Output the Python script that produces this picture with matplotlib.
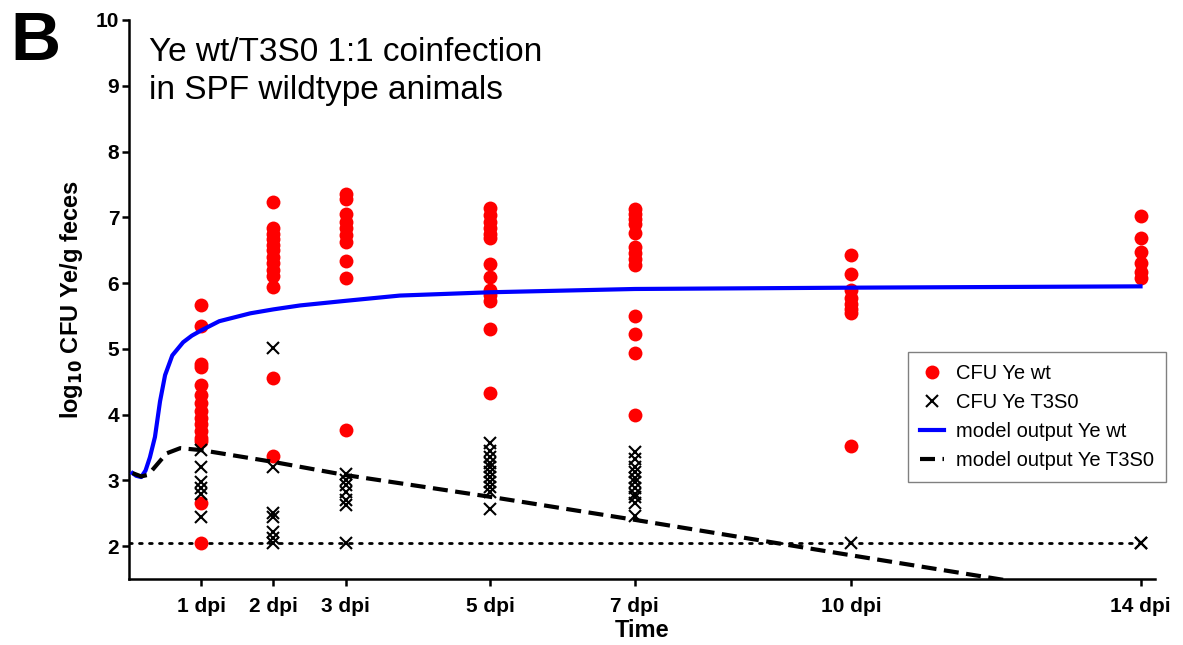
import matplotlib.pyplot as plt

plt.rcParams['font.family'] = ['Liberation Sans', 'DejaVu Sans']

# time points (days post infection)
days = [1, 2, 3, 5, 7, 10, 14]
tick_labels = ['1 dpi', '2 dpi', '3 dpi', '5 dpi', '7 dpi', '10 dpi', '14 dpi']

# log10 CFU Ye wt per animal
wt_d1 = [5.67, 5.35, 4.77, 4.72, 4.45, 4.3, 4.18, 4.05, 3.95, 3.85, 3.75, 3.65, 3.6, 2.65, 2.05]
wt_d2 = [7.23, 6.83, 6.75, 6.67, 6.58, 6.5, 6.4, 6.3, 6.2, 6.1, 5.94, 4.55, 3.37]
wt_d3 = [7.35, 7.28, 7.05, 6.93, 6.83, 6.73, 6.63, 6.33, 6.07, 3.76]
wt_d5 = [7.14, 7.03, 6.93, 6.83, 6.75, 6.68, 6.29, 6.09, 5.9, 5.82, 5.72, 5.3, 4.33]
wt_d7 = [7.12, 7.05, 6.98, 6.9, 6.76, 6.55, 6.45, 6.37, 6.27, 5.5, 5.22, 4.94, 4.0]
wt_d10 = [6.43, 6.14, 5.9, 5.78, 5.68, 5.6, 5.55, 3.53]
wt_d14 = [7.02, 6.68, 6.47, 6.3, 6.17, 6.08, 4.28]

# log10 CFU Ye T3S0 per animal
t3_d1 = [3.46, 3.2, 2.98, 2.88, 2.8, 2.45]
t3_d2 = [5.02, 3.21, 2.5, 2.45, 2.21, 2.12, 2.05]
t3_d3 = [3.1, 3.0, 2.93, 2.82, 2.7, 2.62, 2.05]
t3_d5 = [3.57, 3.45, 3.35, 3.27, 3.2, 3.12, 3.05, 2.97, 2.9, 2.82, 2.56]
t3_d7 = [3.43, 3.33, 3.2, 3.12, 3.04, 2.97, 2.88, 2.8, 2.74, 2.66, 2.46]
t3_d10 = [2.05]
t3_d14 = [2.05, 2.05]

wt_cfu = [wt_d1, wt_d2, wt_d3, wt_d5, wt_d7, wt_d10, wt_d14]
t3_cfu = [t3_d1, t3_d2, t3_d3, t3_d5, t3_d7, t3_d10, t3_d14]

# model curves
model_wt_t = [0.05, 0.1, 0.17, 0.23, 0.29, 0.36, 0.43, 0.5, 0.6, 0.75, 0.87, 1.0,
              1.25, 1.68, 2.0, 2.37, 3.0, 3.75, 5.0, 7.0, 10.0, 14.0]
model_wt = [3.11, 3.07, 3.05, 3.15, 3.35, 3.66, 4.2, 4.6, 4.9, 5.1, 5.2, 5.28,
            5.42, 5.54, 5.6, 5.66, 5.73, 5.81, 5.86, 5.91, 5.93, 5.95]
model_t3_t = [0.05, 0.17, 0.25, 0.31, 0.38, 0.52, 0.71, 1.0, 2.0, 3.0, 5.0, 7.0, 10.0, 12.2]
model_t3 = [3.11, 3.06, 3.08, 3.14, 3.23, 3.41, 3.49, 3.46, 3.28, 3.08, 2.75, 2.4, 1.86, 1.47]

detection_limit = 2.05

fig = plt.figure(figsize=(11.83, 6.45), dpi=100)
ax = fig.add_axes([0.109, 0.1023, 0.8673, 0.8667])

for i, d in enumerate(days):
    ax.plot([d] * len(wt_cfu[i]), wt_cfu[i], 'o', color='#ff0000', markersize=10,
            markeredgewidth=0, zorder=2, label='CFU Ye wt' if i == 0 else None)
for i, d in enumerate(days):
    ax.plot([d] * len(t3_cfu[i]), t3_cfu[i], 'x', color='black', markersize=9,
            markeredgewidth=1.5, zorder=3, label='CFU Ye T3S0' if i == 0 else None)

ax.plot(model_wt_t, model_wt, color='#0000ff', linewidth=3, zorder=4,
        label='model output Ye wt')
ax.plot(model_t3_t, model_t3, color='black', linewidth=3, dashes=(3.6, 1.8), zorder=4,
        label='model output Ye T3S0')
ax.plot([0, 14], [detection_limit, detection_limit], color='black', linewidth=2,
        dashes=(1, 2.6), dash_capstyle='round', zorder=1)

ax.set_xlim(0, 14.2)
ax.set_ylim(1.5, 10)
ax.set_xticks(days)
ax.set_xticklabels(tick_labels)
ax.set_yticks(range(2, 11))

for side in ['top', 'right']:
    ax.spines[side].set_visible(False)
for side in ['left', 'bottom']:
    ax.spines[side].set_linewidth(1.8)
ax.tick_params(width=1.8, length=5, labelsize=15)
ax.tick_params(axis='x', pad=8)
ax.tick_params(axis='y', pad=2)
for lab in ax.get_xticklabels() + ax.get_yticklabels():
    lab.set_fontweight('bold')

ax.set_xlabel('Time', fontsize=17, fontweight='bold', labelpad=2)
ax.set_ylabel('log$_{\\mathbf{10}}$ CFU Ye/g feces', fontsize=17, fontweight='bold', labelpad=8)

ax.text(0.02, 0.97, 'Ye wt/T3S0 1:1 coinfection\nin SPF wildtype animals',
        transform=ax.transAxes, fontsize=24, va='top', ha='left', linespacing=1.3)
fig.text(0.009, 0.985, 'B', fontsize=50, fontweight='bold', va='top', ha='left')

leg = ax.legend(loc='upper right', bbox_to_anchor=(1.0107, 0.406), borderaxespad=0,
                fontsize=14.5, frameon=True, fancybox=False, edgecolor='#808080',
                framealpha=1, handlelength=1.2, handletextpad=0.6, labelspacing=0.5,
                borderpad=0.6)
leg.get_frame().set_linewidth(1)

fig.savefig('out.png', dpi=100)
